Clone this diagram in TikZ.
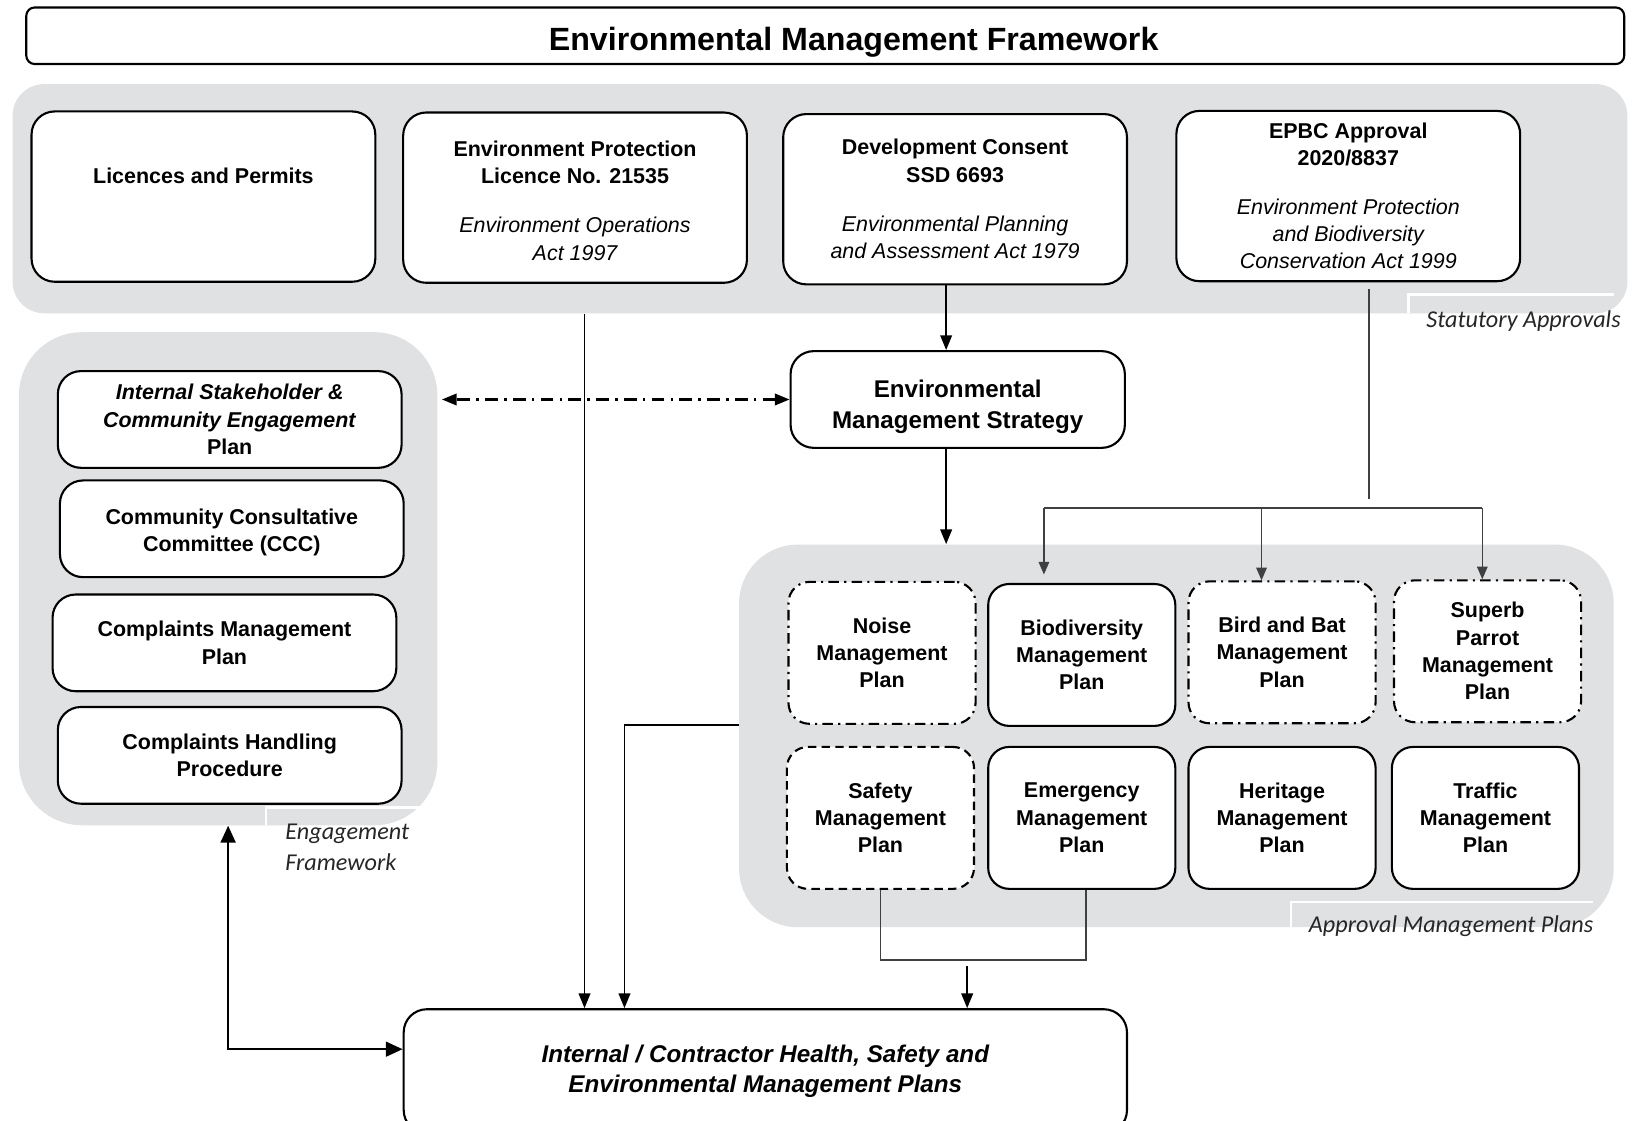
\documentclass[tikz,border=0pt]{standalone}
\usepackage{fontspec}
\setmainfont{Liberation Sans}
\newfontfamily\captfont{Carlito}
\usetikzlibrary{arrows.meta,calc}
\definecolor{groupgrey}{RGB}{224,225,227}
\definecolor{linkgrey}{RGB}{64,64,64}
\newcommand\plainfont{\fontsize{10.2}{13}\selectfont\bfseries}
\newcommand\bigfont{\fontsize{11.5}{14.5}\selectfont\bfseries}
\newcommand\actline[1]{{\mdseries\itshape #1}}
\tikzset{
  group/.style={fill=groupgrey, rounded corners=#1, inner sep=0pt},
  plainbox/.style={draw, line width=1pt, fill=white, rounded corners=11pt, align=center, font=\plainfont, inner sep=2pt},
  toptile/.style={plainbox, minimum width=163.5pt, minimum height=81pt},
  engtile/.style={plainbox, minimum width=163.5pt, minimum height=46pt},
  plantile/.style={plainbox, minimum width=89pt, minimum height=67.5pt, rounded corners=10pt},
  dashdot/.style={dash pattern=on 5pt off 2.5pt on 1pt off 2.5pt},
  dashline/.style={dash pattern=on 4pt off 2.5pt},
  arr/.style={line width=0.9pt, -{Triangle[length=7pt,width=5.5pt]}},
  linkdash/.style={line width=1pt, dash pattern=on 6pt off 3pt on 1.2pt off 3pt, {Triangle[length=7pt,width=5.5pt]}-{Triangle[length=7pt,width=5.5pt]}},
  gline/.style={line width=0.7pt, draw=linkgrey},
  garr/.style={gline, -{Triangle[length=6pt,width=5pt]}},
  notch/.style={draw=white, line width=1.2pt},
  capt/.style={font=\captfont\itshape\fontsize{11.5}{14.5}\selectfont, text=black!85, align=left, inner sep=0pt}
}

\begin{document}
\begin{tikzpicture}[x=0.5pt,y=-0.5pt]
			%%%%% START %%%%%
			\useasboundingbox (0,0) rectangle (1560,1065.4);
			
			\node[group=15pt, minimum width=768pt, minimum height=109pt] (statutory) at (780,189) {};
			\node[group=30pt, minimum width=199pt, minimum height=234.5pt] (engage) at (217,550.5) {};
			\node[group=28pt, minimum width=416pt, minimum height=182pt] (approval) at (1119,700) {};
			
			\draw[notch] (1340,298) -- (1340,280) -- (1535,280);
			\draw[notch] (253,785) -- (253,768) -- (400,768);
			\draw[notch] (1228,882) -- (1228,858) -- (1515,858);
			
			\node[capt, anchor=east] (statlabel) at (1542,305) {Statutory Approvals};
			\node[capt, anchor=west] (englabel) at (271,806) {Engagement\\Framework};
			\node[capt, anchor=east] (applabel) at (1516,881) {Approval Management Plans};
			
			\node[draw, line width=1pt, rounded corners=4pt, minimum width=760pt, minimum height=26pt, font=\fontsize{15.3}{18}\selectfont\bfseries] (title) at (785,34) {\rule{0pt}{17pt}\hspace*{27pt}Environmental Management Framework};
			
			\node[toptile] (lic) at (193.5,187) {Licences and Permits\\[7pt]\mbox{}};
			\node[toptile] (eplic) at (547,188) {\rule{0pt}{10pt}Environment Protection\\Licence No. 21535\\[10.5pt]\actline{Environment Operations}\\\actline{Act 1997}};
			\node[toptile] (devc) at (908.5,189.5) {Development Consent\\SSD 6693\\[10.5pt]\actline{Environmental Planning}\\\actline{and Assessment Act 1979}};
			\node[toptile] (epbc) at (1282.5,186.5) {EPBC Approval\\2020/8837\\[10pt]\actline{Environment Protection}\\\actline{and Biodiversity}\\\actline{Conservation Act 1999}};
			
			\node[plainbox, font=\bigfont, minimum width=159pt, minimum height=46pt] (ems) at (911,380) {\rule{0pt}{15.5pt}Environmental\\Management Strategy};
			
			\node[engtile] (isep) at (218.5,399) {\textit{Internal Stakeholder \&}\\\textit{Community Engagement}\\Plan};
			\node[engtile] (ccc) at (220.5,503) {\rule{0pt}{11pt}Community Consultative\\Committee (CCC)};
			\node[engtile] (cmp) at (213.5,611.5) {Complaints Management\\Plan};
			\node[engtile] (chp) at (218.5,718.5) {Complaints Handling\\Procedure};
			
			\node[plantile, dashdot] (noise) at (839,621) {Noise\\Management\\Plan};
			\node[plantile] (biodiv) at (1029,623) {Biodiversity\\Management\\Plan};
			\node[plantile, dashdot] (birdbat) at (1219.5,620.5) {Bird and Bat\\Management\\Plan};
			\node[plantile, dashdot] (parrot) at (1415,619.5) {Superb\\Parrot\\Management\\Plan};
			\node[plantile, dashline] (safety) at (837.5,778) {Safety\\Management\\Plan};
			\node[plantile] (emerg) at (1029,778) {Emergency\\Management\\Plan};
			\node[plantile] (herit) at (1219.5,778) {Heritage\\Management\\Plan};
			\node[plantile] (traffic) at (1413,778) {Traffic\\Management\\Plan};
			
			\node[plainbox, font=\bigfont\itshape, minimum width=344pt, minimum height=59pt] (hsemp) at (728,1019) {Internal / Contractor Health, Safety and\\Environmental Management Plans};
			
			\draw[arr] ([xshift=4.5pt]eplic.south |- statutory.south) -- ([xshift=4.5pt]eplic.south |- hsemp.north);
			\draw[arr] ([xshift=-4.25pt]devc.south) -- ([xshift=-4.25pt]devc.south |- ems.north);
			\draw[arr] ([xshift=-5.5pt]ems.south) -- ([xshift=-5.5pt]ems.south |- approval.north);
			\draw[linkdash] (ems.west) -- ([xshift=2pt]ems.west -| engage.east);
			
			\coordinate (fanbar) at (1200,483);
			\draw[gline] ([xshift=9.75pt,yshift=-3pt]epbc.south) -- ([xshift=9.75pt,yshift=4pt]epbc.south |- fanbar);
			\draw[gline] ([xshift=-18pt]biodiv.north |- fanbar) -- ([xshift=-2.5pt]parrot.north |- fanbar);
			\draw[garr] ([xshift=-18pt]biodiv.north |- fanbar) -- ([xshift=-18pt,yshift=4pt]biodiv.north);
			\draw[garr] ([xshift=-9.75pt]birdbat.north |- fanbar) -- ([xshift=-9.75pt]birdbat.north);
			\draw[garr] ([xshift=-2.5pt]parrot.north |- fanbar) -- ([xshift=-2.5pt]parrot.north);
			
			\draw[arr] ([yshift=5pt]approval.west) -| ([xshift=-67pt]hsemp.north);
			
			\coordinate (merge) at (920,913);
			\draw[gline] (safety.south) |- (merge) -| ([xshift=2pt]emerg.south);
			\draw[arr] ([yshift=-3pt]merge) -- (merge |- hsemp.north);
			
			\draw[line width=1.2pt, {Triangle[length=8pt,width=7pt]}-{Triangle[length=8pt,width=7pt]}] (engage.south) |- ([yshift=10.5pt]hsemp.west);
			
			%%%%% END %%%%%
\end{tikzpicture}
\end{document}
